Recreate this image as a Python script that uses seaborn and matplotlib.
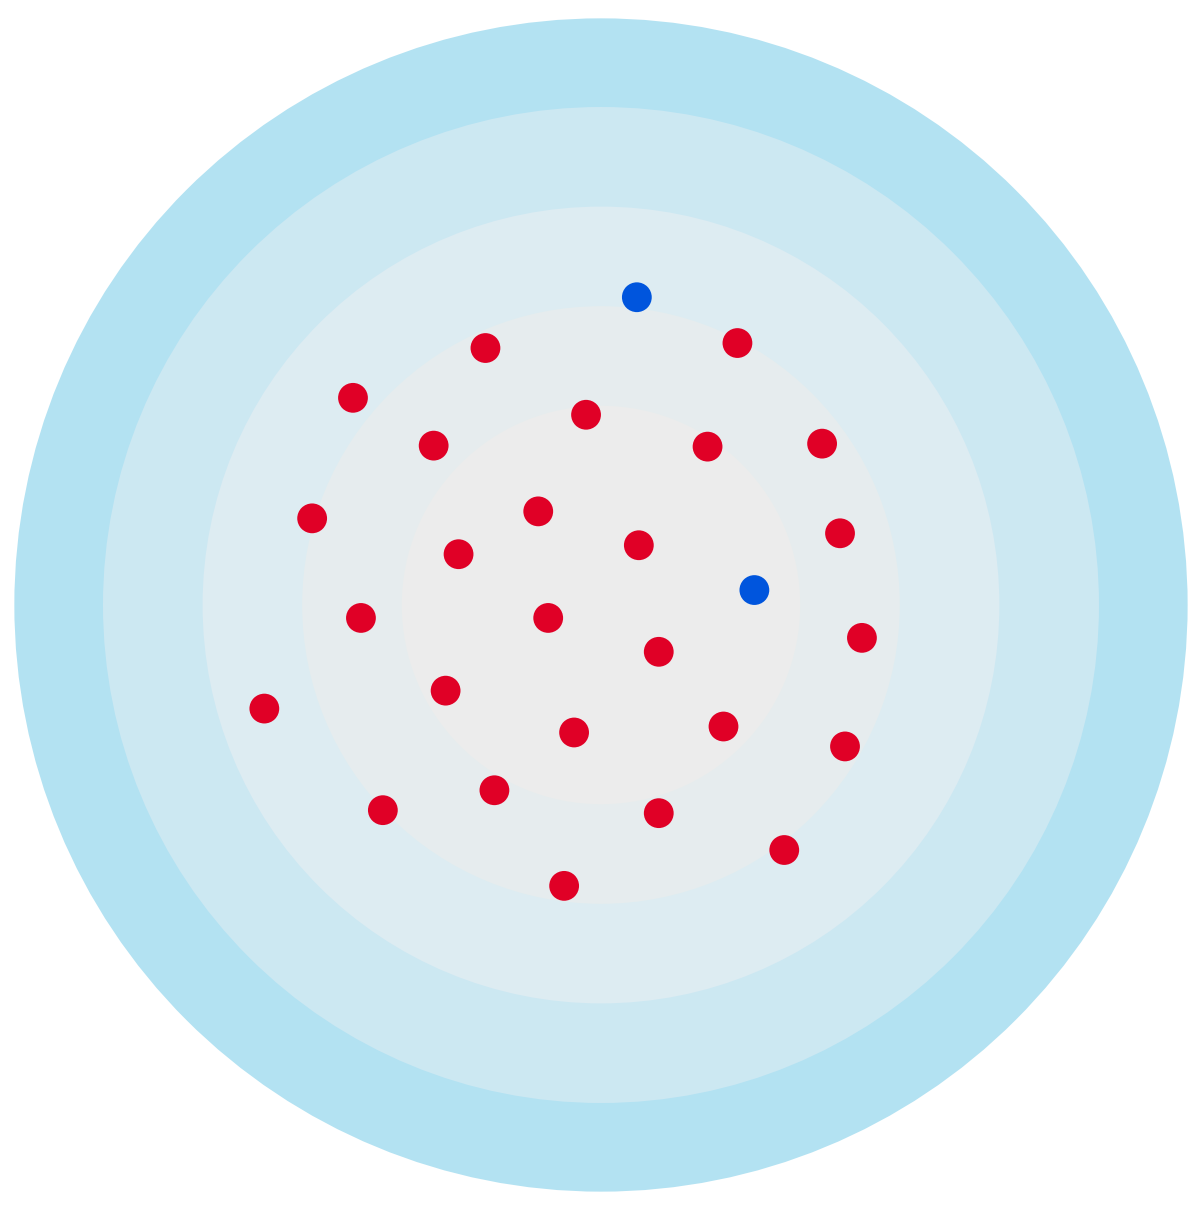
import numpy as np
import pandas as pd
import matplotlib.pyplot as plt
import seaborn as sns
from matplotlib.patches import Circle

# ring radii (outer to inner) and their fill colours
ring_radii = [5.89, 5.0, 4.0, 3.0, 2.0]
ring_colors = ["#b3e2f2", "#cce8f2", "#ddecf2", "#e6ecee", "#ececec"]

# points
x_vals = [-1.16, -2.49, 1.37, -0.15, -1.68, 1.07, 2.22, -2.90, -0.63, -1.43,
          0.38, 2.40, -2.41, -0.53, 0.58, 2.62, -3.38, -1.56, -0.27, 1.23,
          2.45, -2.19, -1.07, 0.58, 1.84, -0.37, 0.36, 1.54]
y_vals = [2.58, 2.08, 2.63, 1.91, 1.60, 1.59, 1.62, 0.87, 0.94, 0.51,
          0.60, 0.72, -0.13, -0.13, -0.47, -0.33, -1.04, -0.86, -1.28, -1.22,
          -1.42, -2.06, -1.86, -2.09, -2.46, -2.82, 3.09, 0.15]
groups = ["red"] * 26 + ["blue"] * 2

df = pd.DataFrame({"x": x_vals, "y": y_vals, "group": groups})

sns.set_style("white")
fig = plt.figure(figsize=(11.96, 12.08), dpi=100)
ax = fig.add_axes([0, 0, 1, 1])

for r, c in zip(ring_radii, ring_colors):
    ax.add_patch(Circle((0, 0), r, facecolor=c, edgecolor="none", zorder=1))

sns.scatterplot(data=df, x="x", y="y", hue="group",
                palette={"red": "#e00026", "blue": "#0055dd"},
                s=460, linewidth=0, legend=False, ax=ax, zorder=3)

ax.set_xlim(-6.034, 5.974)
ax.set_ylim(-6.054, 6.074)
ax.set_aspect("equal")
ax.axis("off")

fig.savefig("out.png", dpi=100)
